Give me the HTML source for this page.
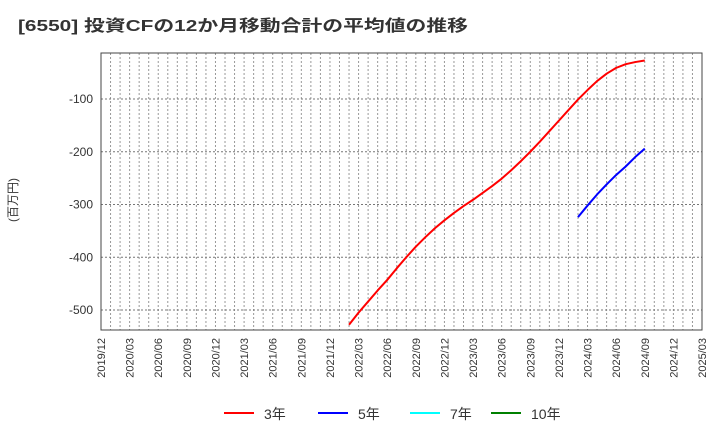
<!DOCTYPE html>
<html><head><meta charset="utf-8"><style>
body{margin:0;background:#fff;}
svg{font-family:"Liberation Sans","Noto Sans CJK JP",sans-serif;}
</style></head><body>
<svg id="c" width="720" height="440" xmlns="http://www.w3.org/2000/svg">
<text x="18" y="31" font-size="16" font-weight="bold" fill="#333" textLength="450" lengthAdjust="spacingAndGlyphs">[6550]  投資CFの12か月移動合計の平均値の推移</text>
<text transform="translate(17,200) rotate(-90)" text-anchor="middle" font-size="12" fill="#333">(百万円)</text>
<g id="grid"></g><g id="axes"></g><g id="series"></g>
<g>
<line x1="224" y1="413" x2="254" y2="413" stroke="#ff0000" stroke-width="2"/><text x="264" y="419" font-size="14" fill="#333">3年</text>
<line x1="318" y1="413" x2="348" y2="413" stroke="#0000ff" stroke-width="2"/><text x="358" y="419" font-size="14" fill="#333">5年</text>
<line x1="410" y1="413" x2="440" y2="413" stroke="#00ffff" stroke-width="2"/><text x="450" y="419" font-size="14" fill="#333">7年</text>
<line x1="491" y1="413" x2="521" y2="413" stroke="#008000" stroke-width="2"/><text x="531" y="419" font-size="14" fill="#333">10年</text>
</g>
</svg>
<script>
const yTicks=[-100,-200,-300,-400,-500];
const xLabels=["2019/12","2020/03","2020/06","2020/09","2020/12","2021/03","2021/06","2021/09","2021/12","2022/03","2022/06","2022/09","2022/12","2023/03","2023/06","2023/09","2023/12","2024/03","2024/06","2024/09","2024/12","2025/03"];
const red3Start=26; // months after 2019/12 (2022/02)
const red3=[-528,-505,-484,-463,-443,-421,-400,-380,-362,-345,-330,-316,-303,-291,-278,-265,-251,-235,-218,-200,-181,-161,-141,-121,-101,-83,-66,-52,-41,-34,-30,-27];
const blue5Start=50; // 2024/02
const blue5=[-324,-302,-281,-262,-244,-228,-210,-194];
const L=101,R=702,T=53,B=330,NM=63;
const x=m=>L+(R-L)*m/NM;
const y=v=>46.25-0.5275*v;
const ns="http://www.w3.org/2000/svg";
function mk(t,a,p){const e=document.createElementNS(ns,t);for(const k in a)e.setAttribute(k,a[k]);p.appendChild(e);return e;}
const g=document.getElementById('grid'),ax=document.getElementById('axes'),s=document.getElementById('series');
for(let m=1;m<NM;m++){const l=mk('line',{x1:x(m),x2:x(m),y1:T,y2:B,stroke:'#999','stroke-dasharray':'2,2','stroke-width':1},g);

}
yTicks.forEach(v=>{const l=mk('line',{x1:L,x2:R,y1:y(v),y2:y(v),stroke:'#777','stroke-dasharray':'2,2','stroke-width':1},g);


const t=mk('text',{x:L-8,y:y(v)+4,'text-anchor':'end','font-size':12,fill:'#333'},ax);t.textContent=v;

});
xLabels.forEach((lb,i)=>{const xx=x(i*3);const t=mk('text',{transform:`translate(${xx+4},338) rotate(-90)`,'text-anchor':'end','font-size':11,fill:'#333'},ax);t.textContent=lb;

});
const box=mk('rect',{x:L,y:T,width:R-L,height:B-T,fill:'none',stroke:'#444','stroke-width':1},ax);


function line(data,st,col,name){const p=mk('polyline',{points:data.map((v,i)=>x(st+i)+','+y(v)).join(' '),fill:'none',stroke:col,'stroke-width':2,'stroke-linejoin':'round'},s);

}
line(red3,red3Start,'#ff0000','series-3y');
line(blue5,blue5Start,'#0000ff','series-5y');
</script>
</body></html>
